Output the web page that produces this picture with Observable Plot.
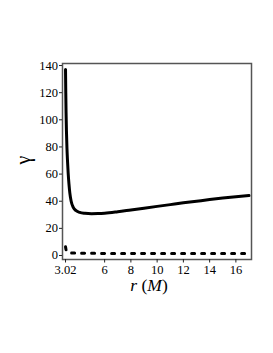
<!DOCTYPE html>
<html>
<head>
<meta charset="utf-8">
<script src="https://cdn.jsdelivr.net/npm/d3@7"></script>
<script src="https://cdn.jsdelivr.net/npm/@observablehq/plot@0.6"></script>
<style>
  html, body { margin: 0; padding: 0; background: #fff; }
</style>
</head>
<body>
<div id="chart"></div>
<script>
// Solid curve: gamma vs r (M)
const solidR = [3.02, 3.04, 3.06, 3.09, 3.13, 3.17, 3.22, 3.28, 3.35, 3.45, 3.6, 3.8, 4.1, 4.5, 5.0, 5.5, 6, 7, 8, 9, 10, 11, 12, 13, 14, 15, 16, 17];
const solidG = [137, 120, 106, 92, 79, 70, 61, 53, 46, 40, 35.6, 33.2, 31.8, 31.1, 30.8, 30.9, 31.2, 32.3, 33.6, 34.9, 36.2, 37.5, 38.8, 40.0, 41.2, 42.3, 43.3, 44.2];
// Dotted curve
const dotR = [3.02, 3.06, 3.12, 3.2, 3.35, 3.6, 4, 5, 6, 8, 10, 13, 17];
const dotG = [6.4, 4.2, 3.0, 2.4, 2.0, 1.8, 1.7, 1.6, 1.5, 1.5, 1.4, 1.4, 1.4];
// Ticks
const xTicks = [3.02, 6, 8, 10, 12, 14, 16];
const yTicks = [0, 20, 40, 60, 80, 100, 120, 140];

const solid = solidR.map((r, i) => ({r, g: solidG[i]}));
const dotted = dotR.map((r, i) => ({r, g: dotG[i]}));

const plot = Plot.plot({
  width: 273,
  height: 353,
  marginLeft: 62,
  marginTop: 63,
  marginRight: 22,
  marginBottom: 94,
  style: {fontFamily: "'Liberation Serif', serif", fontSize: "12.5px", color: "#000", background: "#fff"},
  x: {domain: [2.79, 17.19]},
  y: {domain: [-2.95, 141.5]},
  marks: [
    Plot.frame({stroke: "#555", strokeWidth: 1.5}),
    Plot.axisX({ticks: xTicks, tickFormat: d => d === 3.02 ? "3.02" : String(d), tickSize: 3.5, tickPadding: 2.5, label: null, stroke: "#222", fill: "#000"}),
    Plot.axisY({ticks: yTicks, tickSize: 3, tickPadding: 1.5, label: null, stroke: "#222", fill: "#000"}),
    Plot.line(dotted, {x: "r", y: "g", stroke: "#000", strokeWidth: 3, strokeDasharray: "3,7", curve: "monotone-x"}),
    Plot.line(solid, {x: "r", y: "g", stroke: "#000", strokeWidth: 3, curve: "monotone-x"})
  ]
});

document.getElementById("chart").appendChild(plot);

const svg = d3.select(plot);
// x label: r (M)
const xl = svg.append("text")
  .attr("x", 149).attr("y", 291)
  .attr("text-anchor", "middle")
  .style("font-family", "'Liberation Serif', serif")
  .style("font-size", "17.5px")
  .attr("fill", "#000");
xl.append("tspan").style("font-style", "italic").text("r");
xl.append("tspan").text(" (");
xl.append("tspan").style("font-style", "italic").text("M");
xl.append("tspan").text(")");
// y label: gamma (rotated)
svg.append("text")
  .attr("transform", "translate(30,160) rotate(-90)")
  .attr("text-anchor", "middle")
  .style("font-family", "'Liberation Serif', serif")
  .style("font-size", "20px")
  .attr("fill", "#000")
  .text("γ");
</script>
</body>
</html>
